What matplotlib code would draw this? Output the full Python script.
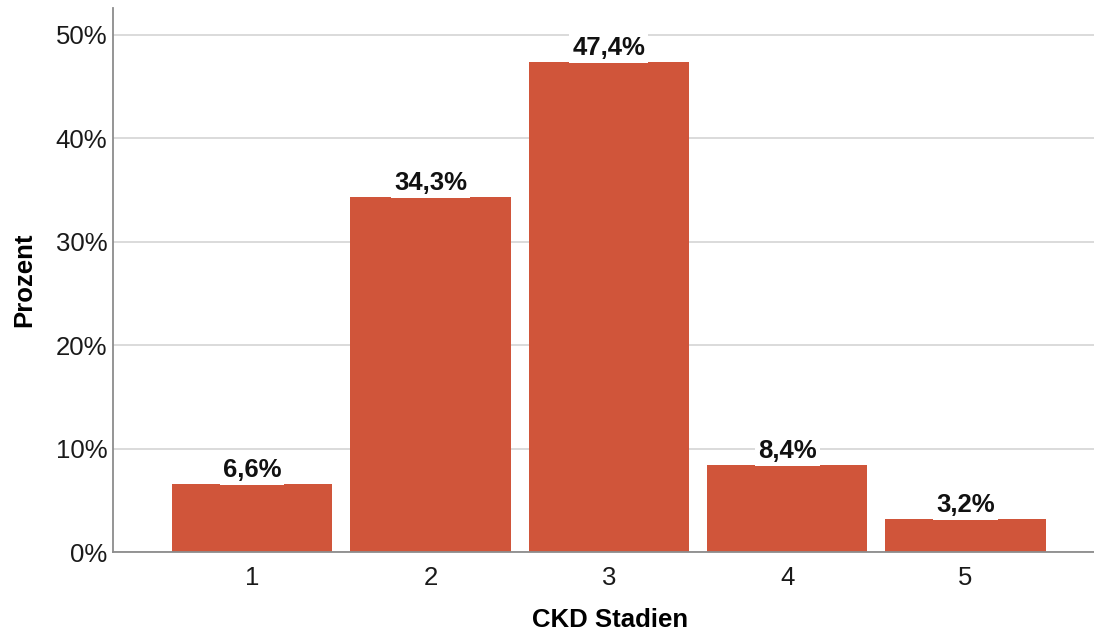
import matplotlib
matplotlib.use("Agg")
import matplotlib.pyplot as plt
from matplotlib.ticker import FuncFormatter

plt.rcParams['font.family'] = ['Liberation Sans', 'DejaVu Sans']

stages = ['1', '2', '3', '4', '5']
percent = [6.6, 34.3, 47.4, 8.4, 3.2]
yticks = [0, 10, 20, 30, 40, 50]

bar_color = '#D0553A'

fig = plt.figure(figsize=(10.94, 6.34), dpi=100)
ax = fig.add_axes([0.1033, 0.1293, 0.8967, 0.8581])

x = list(range(1, len(stages) + 1))
bars = ax.bar(x, percent, width=0.9, color=bar_color, zorder=2)

ax.set_xlim(0.22, 5.72)
ax.set_ylim(0, 52.6)
ax.set_xticks(x)
ax.set_xticklabels(stages)
ax.set_yticks(yticks)
ax.yaxis.set_major_formatter(FuncFormatter(lambda v, p: f"{v:.0f}%"))
ax.tick_params(axis='both', length=0, labelsize=18.5, colors='#1a1a1a', pad=4)
ax.tick_params(axis='x', pad=10)

ax.grid(axis='y', color='#d4d4d4', linewidth=1.2, zorder=0)
ax.set_axisbelow(True)
for side in ('top', 'right'):
    ax.spines[side].set_visible(False)
for side in ('left', 'bottom'):
    ax.spines[side].set_color('#8c8c8c')
    ax.spines[side].set_linewidth(1.3)

for xi, val in zip(x, percent):
    label = f"{val:.1f}%".replace('.', ',')
    ax.annotate(label, (xi, val), xytext=(0, 1.5), textcoords='offset points',
                ha='center', va='bottom', fontsize=18.5, fontweight='bold',
                color='#111111', zorder=4,
                bbox=dict(boxstyle='square,pad=0.12', facecolor='white',
                          edgecolor='none'))

ax.set_xlabel('CKD Stadien', fontsize=18.5, fontweight='bold')
ax.xaxis.set_label_coords(0.507, -0.102)
ax.set_ylabel('Prozent', fontsize=18.5, fontweight='bold', labelpad=14)

fig.savefig('out.png', dpi=100)
